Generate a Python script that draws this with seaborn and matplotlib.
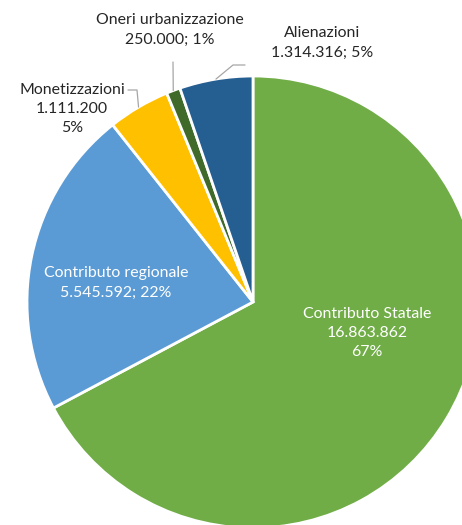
import numpy as np
import matplotlib
matplotlib.use("Agg")
import matplotlib.pyplot as plt
import seaborn as sns

# Funding sources (euro)
labels = ["Contributo Statale", "Contributo regionale", "Monetizzazioni",
          "Oneri urbanizzazione", "Alienazioni"]
values = [16863862, 5545592, 1111200, 250000, 1314316]
value_text = ["16.863.862", "5.545.592", "1.111.200", "250.000", "1.314.316"]
pct_text = ["67%", "22%", "5%", "1%", "5%"]
colors = ["#70AD47", "#5B9BD5", "#FFC000", "#3F6A2A", "#255E91"]

sns.set_theme(style="white")
plt.rcParams['font.family'] = ['Lato', 'DejaVu Sans']

W, H = 462, 525
CX, CY, R = 253, 302, 226


def px(x, y):
    # pixel position -> data coords (pie radius 1 at origin)
    return (x - CX) / R, (CY - y) / R


fig = plt.figure(figsize=(W / 100, H / 100), dpi=100)
ax = fig.add_axes([0, 0, 1, 1])
wedges, _ = ax.pie(values, colors=colors, startangle=90, counterclock=False,
                   radius=1, wedgeprops=dict(edgecolor="white", linewidth=2))
ax.set_aspect("auto")
ax.set_xlim(px(0, 0)[0], px(W, 0)[0])
ax.set_ylim(px(0, H)[1], px(0, 0)[1])
ax.axis("off")

fs = 11.4
ls = 1.5
line_col = "#A6A6A6"

# labels inside the two big slices
ax.text(*px(367, 333), f"{labels[0]}\n{value_text[0]}\n{pct_text[0]}",
        ha="center", va="center", color="white", fontsize=fs, linespacing=ls)
ax.text(*px(116, 283), f"{labels[1]}\n{value_text[1]}; {pct_text[1]}",
        ha="center", va="center", color="white", fontsize=fs, linespacing=ls)

# outside labels
ax.text(*px(72, 109), f"{labels[2]}\n{value_text[2]}\n{pct_text[2]}",
        ha="center", va="center", color="#262626", fontsize=fs, linespacing=ls)
ax.text(*px(170, 30), f"{labels[3]}\n{value_text[3]}; {pct_text[3]}",
        ha="center", va="center", color="#262626", fontsize=fs, linespacing=ls)
ax.text(*px(322, 43), f"{labels[4]}\n{value_text[4]}; {pct_text[4]}",
        ha="center", va="center", color="#262626", fontsize=fs, linespacing=ls)


def mid_point(w):
    a = np.deg2rad((w.theta1 + w.theta2) / 2)
    return np.cos(a), np.sin(a)


# leader lines
for i, elbow in [(2, [px(137, 90), px(128, 90)]),
                 (3, [px(173, 62)]),
                 (4, [px(233, 65), px(245, 65)])]:
    pts = [mid_point(wedges[i])] + elbow
    xs, ys = zip(*pts)
    ax.plot(xs, ys, color=line_col, lw=0.9)

fig.savefig("out.png", dpi=100)
